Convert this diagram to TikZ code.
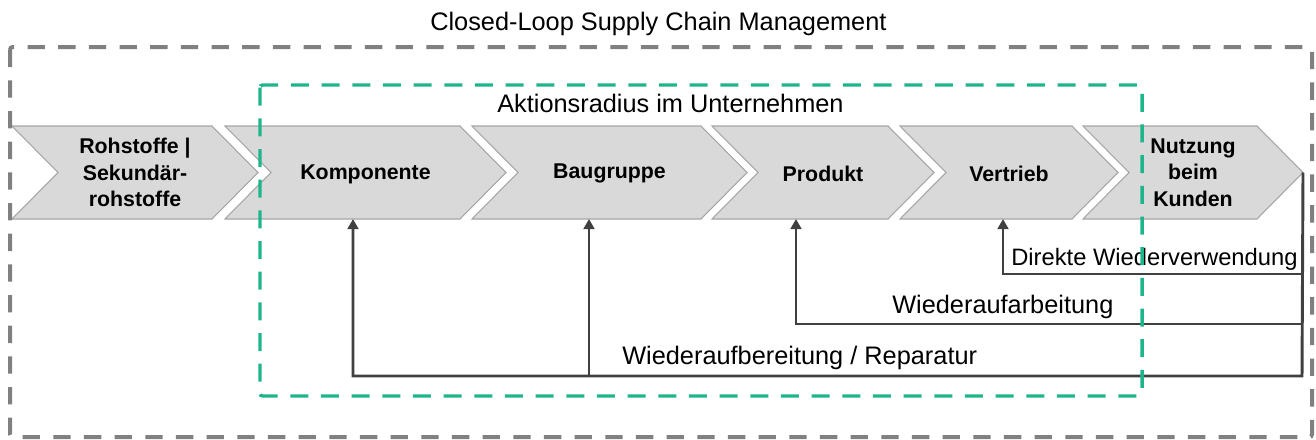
\documentclass[tikz,border=0pt]{standalone}
\usepackage{fontspec}
\setmainfont{Liberation Sans}
\usetikzlibrary{arrows.meta}
\definecolor{chevfill}{HTML}{D9D9D9}
\definecolor{chevline}{HTML}{A6A6A6}
\definecolor{framegray}{HTML}{808080}
\definecolor{scopegreen}{HTML}{1FB58C}
\definecolor{flowgray}{HTML}{404040}
\tikzset{
  chevshape/.style={fill=chevfill, draw=chevline, line width=0.8pt, line join=miter},
  chevlabel/.style={font=\bfseries\fontsize{16}{20}\selectfont, align=center, inner sep=0pt, text=black},
  plainlabel/.style={font=\fontsize{19}{22}\selectfont, inner sep=0pt, text=black},
  smalllabel/.style={plainlabel, font=\fontsize{17.8}{21}\selectfont},
  outerframe/.style={draw=framegray, line width=3pt, dash pattern=on 13pt off 10pt, rounded corners=2pt},
  innerframe/.style={draw=scopegreen, line width=2.6pt, dash pattern=on 13.5pt off 9.5pt, rounded corners=2pt},
  flowline/.style={draw=flowgray, line width=2.2pt},
  flowarrow/.style={flowline, -{Triangle[length=7.5pt,width=8pt]}},
}
\begin{document}
\begin{tikzpicture}[x=0.75pt, y=-0.75pt]
\useasboundingbox (0,0) rectangle (1316,439);

% chevrons of the value chain: left edge, top-right corner, node name, label height, label
\foreach \l/\r/\nm/\ly/\txt in {
  12/212/roh/172.5/{Rohstoffe |\\Sekundär-\\rohstoffe},
  225/460/komp/174/Komponente,
  472/701/baug/173.5/Baugruppe,
  712/888/prod/174/Produkt,
  900/1072/vert/174/Vertrieb,
  1083/1257/kund/172.5/{Nutzung\\beim\\Kunden}}{
  \path[chevshape] (\l,126) -- (\r,126) -- (\r+46,172.5) -- (\r,219) -- (\l,219) -- (\l+46,172.5) -- cycle;
  \node[chevlabel] (\nm) at ({(\l+\r+46)/2},\ly) {\txt};
}

% entry points of the return flows and the end of the chain
\coordinate (tip) at (1303,172.5);
\coordinate (kompIn) at (353,219);
\coordinate (baugIn) at (589,219);
\coordinate (prodIn) at (796,219);
\coordinate (vertIn) at (1003,219);
\coordinate (wrEnd) at (1302,376);
\coordinate (waStart) at (1302,324);
\coordinate (dwStart) at (1302,274);
\coordinate (baugBend) at (589,376);

% return flows
\draw[flowarrow] (tip) -- (wrEnd) -| (kompIn);
\draw[flowarrow] (baugBend) -- (baugIn);
\draw[flowarrow] (waStart) -| (prodIn);
\draw[flowarrow] (dwStart) -| (vertIn);

\node[smalllabel, anchor=base west] (dwLabel) at (1011,265) {Direkte Wiederverwendung};
\node[plainlabel, anchor=base west] (waLabel) at (892,313) {Wiederaufarbeitung};
\node[plainlabel, anchor=base west] (wrLabel) at (622,364) {Wiederaufbereitung / Reparatur};

% overall scope of closed-loop management
\draw[outerframe] (10,47) rectangle (1312,437);
\node[plainlabel, anchor=base west] (title) at (430,31) {Closed-Loop Supply Chain Management};

% scope of the company
\draw[innerframe] (260,85) rectangle (1142,396);
\node[plainlabel, anchor=base west] (scope) at (497,112) {Aktionsradius im Unternehmen};
\end{tikzpicture}
\end{document}
